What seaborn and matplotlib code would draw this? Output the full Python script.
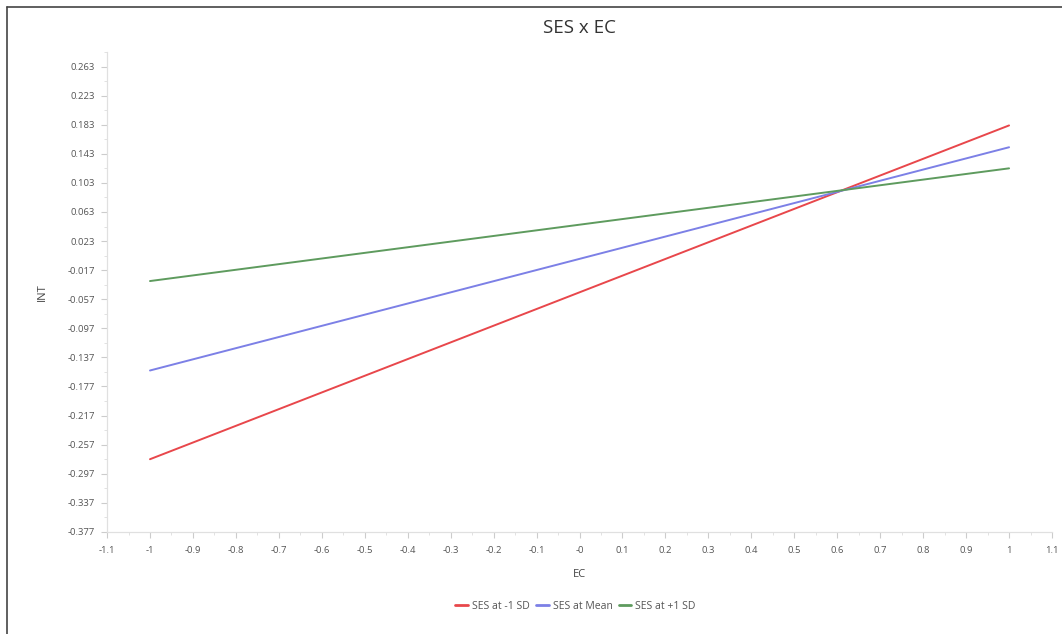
import numpy as np
import pandas as pd
import matplotlib
matplotlib.use("Agg")
import matplotlib.pyplot as plt
import seaborn as sns
from matplotlib.lines import Line2D
from matplotlib.ticker import FixedLocator, FixedFormatter, MultipleLocator

# values
ec = [-1, 1]
ses_low = [-0.277, 0.182]
ses_mean = [-0.155, 0.152]
ses_high = [-0.032, 0.123]
series_names = ["SES at -1 SD", "SES at Mean", "SES at +1 SD"]
series_colors = ["#e8474b", "#7c80e6", "#5e9b5e"]

x_ticks = [-1.1, -1, -0.9, -0.8, -0.7, -0.6, -0.5, -0.4, -0.3, -0.2, -0.1, 0,
           0.1, 0.2, 0.3, 0.4, 0.5, 0.6, 0.7, 0.8, 0.9, 1, 1.1]
x_labels = ["-1.1", "-1", "-0.9", "-0.8", "-0.7", "-0.6", "-0.5", "-0.4", "-0.3",
            "-0.2", "-0.1", "-0", "0.1", "0.2", "0.3", "0.4", "0.5", "0.6", "0.7",
            "0.8", "0.9", "1", "1.1"]
y_ticks = [0.263, 0.223, 0.183, 0.143, 0.103, 0.063, 0.023, -0.017, -0.057,
           -0.097, -0.137, -0.177, -0.217, -0.257, -0.297, -0.337, -0.377]

df = pd.DataFrame({
    "EC": ec * 3,
    "INT": ses_low + ses_mean + ses_high,
    "series": [n for n in series_names for _ in ec],
})

sns.set_style("white")
plt.rcParams["font.family"] = ["Open Sans", "DejaVu Sans"]

fig = plt.figure(figsize=(10.62, 6.34), dpi=100)
ax = fig.add_axes([0.1008, 0.161, 0.8898, 0.757])

sns.lineplot(data=df, x="EC", y="INT", hue="series", palette=series_colors,
             hue_order=series_names, linewidth=1.4, ax=ax, legend=False)

ax.set_xlim(-1.1, 1.1)
ax.set_ylim(-0.377, 0.283)
ax.xaxis.set_major_locator(FixedLocator(x_ticks))
ax.xaxis.set_major_formatter(FixedFormatter(x_labels))
ax.xaxis.set_minor_locator(MultipleLocator(0.05))
ax.yaxis.set_major_locator(FixedLocator(y_ticks))
ax.yaxis.set_major_formatter(FixedFormatter([f"{v:.3f}" for v in y_ticks]))
ax.yaxis.set_minor_locator(FixedLocator([v + 0.02 for v in y_ticks]))

tick_gray = "#555555"
ax.tick_params(axis="both", which="major", labelsize=6.8, colors="#cccccc",
               labelcolor=tick_gray, length=4, width=0.8, direction="out")
ax.tick_params(axis="both", which="minor", colors="#dddddd", length=2.5,
               width=0.6, direction="out")
ax.tick_params(axis="x", which="major", pad=6)
ax.tick_params(axis="y", which="major", pad=5)
ax.tick_params(left=True, bottom=True, which="both")

for side in ["top", "right"]:
    ax.spines[side].set_visible(False)
for side in ["left", "bottom"]:
    ax.spines[side].set_color("#e0e0e0")
    ax.spines[side].set_linewidth(0.9)

ax.set_title("SES x EC", fontsize=13.5, color="#333333", pad=14)
ax.set_xlabel("EC", fontsize=8, color="#444444", labelpad=10)
ax.set_ylabel("INT", fontsize=8, color="#444444", labelpad=14)

handles = [Line2D([0], [0], color=c, lw=2) for c in series_colors]
fig.legend(handles, series_names, loc="center", bbox_to_anchor=(0.542, 0.044),
           ncol=3, frameon=False, fontsize=7.5, labelcolor="#555555",
           handlelength=1.2, handletextpad=0.4, columnspacing=0.6)

# frame lines seen at top and left edges of the reference image
fig.add_artist(Line2D([7 / 1062, 7 / 1062], [0, 1 - 7 / 634], color="#444444",
                      lw=1.2, transform=fig.transFigure))
fig.add_artist(Line2D([7 / 1062, 1], [1 - 7 / 634, 1 - 7 / 634], color="#444444",
                      lw=1.2, transform=fig.transFigure))

fig.savefig("out.png", dpi=100)
